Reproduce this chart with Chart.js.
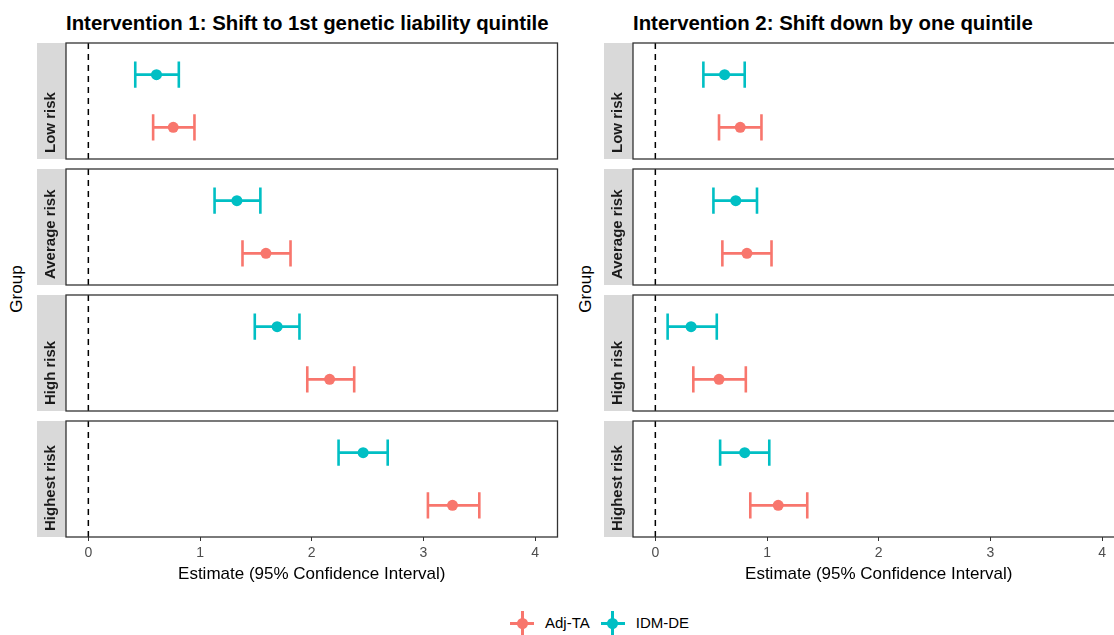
<!DOCTYPE html>
<html>
<head>
<meta charset="utf-8">
<script src="https://cdn.jsdelivr.net/npm/chart.js@4.4.1/dist/chart.umd.min.js"></script>
<style>
  body { margin: 0; background: #fff; width: 1114px; height: 635px; overflow: hidden; position: relative; font-family: "Liberation Sans", Arial, sans-serif; }
  canvas { position: absolute; top: 0; }
  .title { position: absolute; top: 11px; font-weight: bold; font-size: 20.4px; line-height: 24px; color: #000; white-space: nowrap; }
  .ylab { position: absolute; top: 289px; font-size: 17px; line-height: 20px; color: #000; transform: translate(-50%, -50%) rotate(-90deg); white-space: nowrap; }
  #legend { position: absolute; left: 510px; top: 611px; height: 24px; display: flex; align-items: center; }
  .key { position: relative; width: 24px; height: 24px; }
  .key div { position: absolute; }
  .key .h { left: 0; top: 10.5px; width: 24px; height: 3px; }
  .key .v { left: 10.5px; top: 0; width: 3px; height: 24px; }
  .key .d { left: 6.5px; top: 6.5px; width: 11px; height: 11px; border-radius: 50%; }
  .lab { font-size: 15px; line-height: 24px; color: #000; margin-left: 11px; margin-right: 11px; }
</style>
</head>
<body>
<div class="title" style="left:66px">Intervention 1: Shift to 1st genetic liability quintile</div>
<div class="title" style="left:633px">Intervention 2: Shift down by one quintile</div>
<div class="ylab" style="left:17px">Group</div>
<div class="ylab" style="left:586px">Group</div>
<canvas id="panel1" width="526" height="587" style="left:37px"></canvas>
<canvas id="panel2" width="526" height="587" style="left:604px"></canvas>
<div id="legend"></div>
<script>
// facets, series and axis ticks
const groups = ['Low risk', 'Average risk', 'High risk', 'Highest risk'];
const seriesNames = ['Adj-TA', 'IDM-DE'];
const seriesColors = ['#F8766D', '#00BFC4'];
const xTicks = [0, 1, 2, 3, 4];

// Intervention 1: estimate and 95% CI per group
const i1AdjEst = [0.76, 1.59, 2.16, 3.26];
const i1AdjLo  = [0.58, 1.38, 1.96, 3.04];
const i1AdjHi  = [0.95, 1.81, 2.38, 3.50];
const i1IdmEst = [0.61, 1.33, 1.69, 2.46];
const i1IdmLo  = [0.42, 1.13, 1.49, 2.24];
const i1IdmHi  = [0.81, 1.54, 1.89, 2.68];

// Intervention 2
const i2AdjEst = [0.76, 0.82, 0.57, 1.10];
const i2AdjLo  = [0.57, 0.60, 0.34, 0.85];
const i2AdjHi  = [0.95, 1.04, 0.81, 1.36];
const i2IdmEst = [0.62, 0.72, 0.32, 0.80];
const i2IdmLo  = [0.43, 0.52, 0.11, 0.58];
const i2IdmHi  = [0.80, 0.91, 0.55, 1.02];

Chart.defaults.font.family = '"Liberation Sans", Arial, sans-serif';

// layout of the facets (px) and discrete y range like ggplot (levels 1..2, expand 0.6)
const facetH = 116, gap = 10, stripW = 29;
const yMin = 0.4, yMax = 2.6;
const gapUnits = gap / facetH * (yMax - yMin);
const capHalf = 0.25;

const facetPlugin = {
    id: 'facets',
    beforeDatasetsDraw(chart) {
        const ctx = chart.ctx;
        const xs = chart.scales.x;
        groups.forEach((name, g) => {
            const ys = chart.scales['y' + g];
            const top = ys.getPixelForValue(yMax);
            const bot = ys.getPixelForValue(yMin);
            ctx.save();
            // strip
            ctx.fillStyle = '#D9D9D9';
            ctx.fillRect(ys.left, top, ys.right - ys.left, bot - top);
            ctx.translate(ys.right - 11, bot - 6);
            ctx.rotate(-Math.PI / 2);
            ctx.font = 'bold 15px "Liberation Sans", Arial, sans-serif';
            ctx.fillStyle = '#1A1A1A';
            ctx.textAlign = 'left';
            ctx.textBaseline = 'alphabetic';
            ctx.fillText(name, 0, 0);
            ctx.restore();
            // dashed line at 0
            const x0 = xs.getPixelForValue(0);
            ctx.save();
            ctx.strokeStyle = '#000';
            ctx.lineWidth = 1.5;
            ctx.setLineDash([6, 5]);
            ctx.beginPath();
            ctx.moveTo(x0, top);
            ctx.lineTo(x0, bot);
            ctx.stroke();
            ctx.restore();
        });
        // error bars
        chart.data.datasets.forEach(ds => {
            const ys = chart.scales[ds.yAxisID];
            ds.data.forEach(pt => {
                const y = ys.getPixelForValue(pt.y);
                const c1 = ys.getPixelForValue(pt.y + capHalf);
                const c2 = ys.getPixelForValue(pt.y - capHalf);
                const xl = xs.getPixelForValue(ds.lo);
                const xh = xs.getPixelForValue(ds.hi);
                ctx.save();
                ctx.strokeStyle = ds.borderColor;
                ctx.lineWidth = 2.6;
                ctx.beginPath();
                ctx.moveTo(xl, y); ctx.lineTo(xh, y);
                ctx.moveTo(xl, c1); ctx.lineTo(xl, c2);
                ctx.moveTo(xh, c1); ctx.lineTo(xh, c2);
                ctx.stroke();
                ctx.restore();
            });
        });
    },
    afterDatasetsDraw(chart) {
        const ctx = chart.ctx;
        const area = chart.chartArea;
        groups.forEach((name, g) => {
            const ys = chart.scales['y' + g];
            const top = ys.getPixelForValue(yMax);
            const bot = ys.getPixelForValue(yMin);
            ctx.save();
            ctx.strokeStyle = '#333333';
            ctx.lineWidth = 1.3;
            ctx.strokeRect(area.left, top, area.right - area.left, bot - top);
            ctx.restore();
        });
    }
};

function makePanel(id, adjEst, adjLo, adjHi, idmEst, idmLo, idmHi) {
    const est = [adjEst, idmEst], lo = [adjLo, idmLo], hi = [adjHi, idmHi];
    const datasets = [];
    const scales = {
        x: {
            type: 'linear',
            position: 'bottom',
            min: -0.2,
            max: 4.2,
            afterBuildTicks: s => { s.ticks = xTicks.map(v => ({value: v})); },
            afterFit: s => { s.height = 50; },
            ticks: { color: '#4D4D4D', font: { size: 14 }, padding: 4 },
            grid: { drawOnChartArea: false, drawTicks: true, tickLength: 4, color: '#333333' },
            border: { display: false },
            title: {
                display: true,
                text: 'Estimate (95% Confidence Interval)',
                color: '#000',
                font: { size: 17 },
                padding: { top: 0, bottom: 2 }
            }
        }
    };
    const last = groups.length - 1;
    groups.forEach((name, g) => {
        scales['y' + g] = {
            type: 'linear',
            position: 'left',
            stack: 'facets',
            stackWeight: g < last ? facetH + gap : facetH,
            weight: groups.length - g,
            min: g < last ? yMin - gapUnits : yMin,
            max: yMax,
            ticks: { display: false },
            grid: { display: false },
            border: { display: false },
            afterFit: s => { s.width = stripW; }
        };
        seriesNames.forEach((sn, s) => {
            datasets.push({
                label: sn,
                data: [{ x: est[s][g], y: s + 1 }],
                lo: lo[s][g],
                hi: hi[s][g],
                yAxisID: 'y' + g,
                xAxisID: 'x',
                backgroundColor: seriesColors[s],
                borderColor: seriesColors[s],
                pointRadius: 5.5,
                pointBorderWidth: 0,
                pointHoverRadius: 5.5
            });
        });
    });
    return new Chart(document.getElementById(id).getContext('2d'), {
        type: 'scatter',
        data: { datasets: datasets },
        options: {
            responsive: false,
            animation: false,
            layout: { padding: { top: 43, left: 0, right: 3, bottom: 0 } },
            plugins: { legend: { display: false }, tooltip: { enabled: false } },
            scales: scales
        },
        plugins: [facetPlugin]
    });
}

makePanel('panel1', i1AdjEst, i1AdjLo, i1AdjHi, i1IdmEst, i1IdmLo, i1IdmHi);
makePanel('panel2', i2AdjEst, i2AdjLo, i2AdjHi, i2IdmEst, i2IdmLo, i2IdmHi);

// legend
const legend = document.getElementById('legend');
seriesNames.forEach((sn, s) => {
    const c = seriesColors[s];
    const key = document.createElement('div');
    key.className = 'key';
    key.innerHTML = '<div class="h" style="background:' + c + '"></div>' +
                    '<div class="v" style="background:' + c + '"></div>' +
                    '<div class="d" style="background:' + c + '"></div>';
    const lab = document.createElement('span');
    lab.className = 'lab';
    lab.textContent = sn;
    legend.appendChild(key);
    legend.appendChild(lab);
});
</script>
</body>
</html>
